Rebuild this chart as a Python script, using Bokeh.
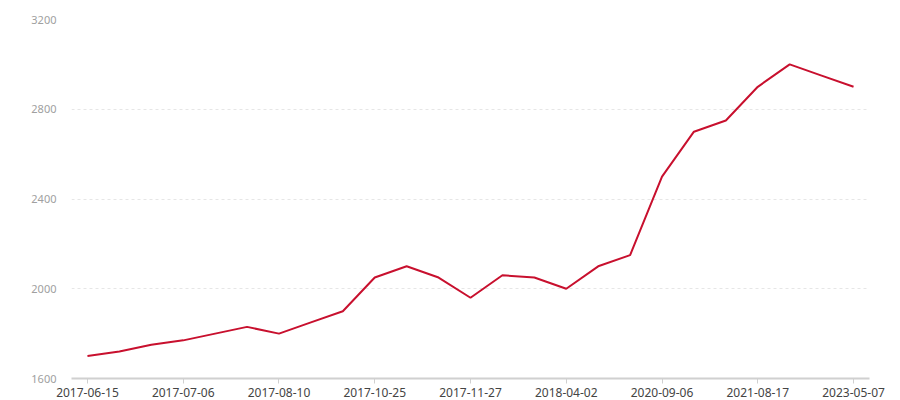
from bokeh.plotting import figure
from bokeh.models import Range1d, FixedTicker
from bokeh.embed import file_html
from bokeh.resources import INLINE

# data
values = [1700, 1720, 1750, 1770, 1800, 1830, 1800, 1850, 1900,
          2050, 2100, 2050, 1960, 2060, 2050, 2000, 2100, 2150,
          2500, 2700, 2750, 2900, 3000, 2950, 2900]
tick_labels = ["2017-06-15", "2017-07-06", "2017-08-10", "2017-10-25",
               "2017-11-27", "2018-04-02", "2020-09-06", "2021-08-17",
               "2023-05-07"]
y_ticks = [1600, 2000, 2400, 2800, 3200]
label_step = 3

x = list(range(len(values)))
tick_pos = list(range(0, len(values), label_step))

FONT = "Noto Sans"

p = figure(width=890, height=399, output_backend="svg", toolbar_location=None,
           x_range=Range1d(-0.5, len(values) - 0.5), y_range=Range1d(y_ticks[0], y_ticks[-1]),
           min_border_left=71, min_border_right=21, min_border_top=19, min_border_bottom=19)
p.outline_line_color = None
p.background_fill_color = "white"
p.border_fill_color = "white"

p.line(x, values, line_color="#c8102e", line_width=2)

# x axis
p.xaxis.ticker = FixedTicker(ticks=tick_pos)
p.xaxis.major_label_overrides = {pos: lab for pos, lab in zip(tick_pos, tick_labels)}
p.xaxis.axis_line_color = "#d0d0d0"
p.xaxis.axis_line_width = 2
p.xaxis.major_tick_line_color = "#d0d0d0"
p.xaxis.major_tick_in = 0
p.xaxis.major_tick_out = 5
p.xaxis.minor_tick_line_color = None
p.xaxis.major_label_standoff = 4
p.xaxis.major_label_text_font = FONT
p.xaxis.major_label_text_font_size = "12px"
p.xaxis.major_label_text_color = "#444444"

# y axis
p.yaxis.ticker = FixedTicker(ticks=y_ticks)
p.yaxis.axis_line_color = None
p.yaxis.major_tick_line_color = None
p.yaxis.minor_tick_line_color = None
p.yaxis.major_label_standoff = 9
p.yaxis.major_label_text_font = FONT
p.yaxis.major_label_text_font_size = "11px"
p.yaxis.major_label_text_color = "#a0a0a0"

p.xgrid.grid_line_color = None
p.ygrid.grid_line_color = "#e6e6e6"
p.ygrid.grid_line_dash = "3 3"
p.ygrid.grid_line_width = 1

open("out.html", "w").write(file_html(p, INLINE))
